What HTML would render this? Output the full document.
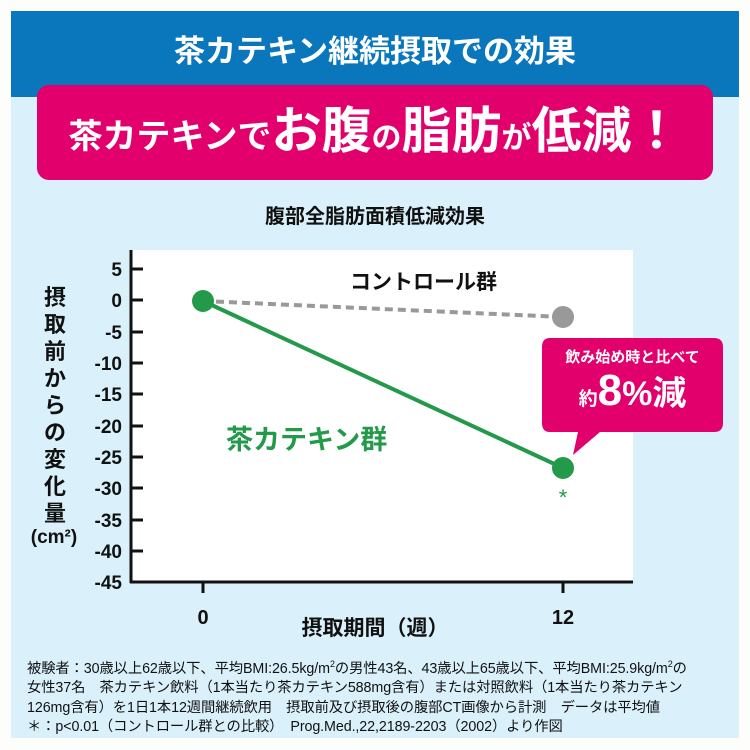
<!DOCTYPE html>
<html><head><meta charset="utf-8"><style>
body{margin:0;width:750px;height:750px;background:#fdfdfb;position:relative;overflow:hidden;font-family:"Liberation Sans","Noto Sans CJK JP",sans-serif;}
.abs{position:absolute;}
</style></head><body>
<div class="abs" style="left:11px;top:11px;width:728px;height:727px;background:#daf1fc;"></div>
<div class="abs" style="left:11px;top:11px;width:728px;height:86px;background:#0a77bd;"></div>
<div class="abs" style="left:11px;top:30px;width:728px;text-align:center;color:#fff;font-size:31px;font-weight:bold;line-height:44px;">茶カテキン継続摂取での効果</div>
<div class="abs" style="left:37px;top:85px;width:676px;height:95px;background:#e2006d;border-radius:12px;"></div>
<div class="abs" style="left:37px;top:96px;width:676px;text-align:center;color:#fff;font-weight:bold;line-height:70px;white-space:nowrap;"><span style="font-size:34px">茶カテキンで</span><span style="font-size:50px">お腹</span><span style="font-size:30px">の</span><span style="font-size:50px">脂肪</span><span style="font-size:30px">が</span><span style="font-size:50px">低減！</span></div>
<div class="abs" style="left:0;top:200px;width:750px;text-align:center;font-size:20px;font-weight:bold;color:#111;">腹部全脂肪面積低減効果</div>
<svg class="abs" style="left:0;top:0" width="750" height="750">
<rect x="131" y="250" width="502" height="332" fill="#fff"/>
<line x1="131" y1="250" x2="131" y2="583" stroke="#111" stroke-width="3"/>
<line x1="130" y1="582" x2="633" y2="582" stroke="#111" stroke-width="3"/>
<g stroke="#111" stroke-width="3">
<line x1="131" y1="269" x2="143" y2="269"/><line x1="131" y1="300" x2="143" y2="300"/><line x1="131" y1="332" x2="143" y2="332"/><line x1="131" y1="363" x2="143" y2="363"/><line x1="131" y1="394" x2="143" y2="394"/><line x1="131" y1="426" x2="143" y2="426"/><line x1="131" y1="457" x2="143" y2="457"/><line x1="131" y1="488" x2="143" y2="488"/><line x1="131" y1="520" x2="143" y2="520"/><line x1="131" y1="551" x2="143" y2="551"/>
<line x1="203" y1="582" x2="203" y2="593"/><line x1="563" y1="582" x2="563" y2="593"/>
</g>
<g font-size="19" font-weight="bold" fill="#111" text-anchor="end" font-family="Liberation Sans,sans-serif">
<text x="122" y="276">5</text><text x="122" y="307">0</text><text x="122" y="339">-5</text><text x="122" y="370">-10</text><text x="122" y="401">-15</text><text x="122" y="433">-20</text><text x="122" y="464">-25</text><text x="122" y="495">-30</text><text x="122" y="527">-35</text><text x="122" y="558">-40</text><text x="122" y="589">-45</text>
</g>
<text x="203" y="624" font-size="20" font-weight="bold" text-anchor="middle" fill="#111">0</text>
<text x="563" y="624" font-size="20" font-weight="bold" text-anchor="middle" fill="#111">12</text>
<line x1="203" y1="301" x2="563" y2="317" stroke="#999" stroke-width="4" stroke-dasharray="8,5"/>
<circle cx="563" cy="317" r="11" fill="#999"/>
<line x1="203" y1="301" x2="563" y2="468" stroke="#23994a" stroke-width="4"/>
<circle cx="203" cy="301" r="11" fill="#23994a"/>
<circle cx="563" cy="468" r="11" fill="#23994a"/>
<text x="563" y="505" font-size="22" text-anchor="middle" fill="#23994a">*</text>
<path d="M550,338 H714 Q723,338 723,347 V423 Q723,432 714,432 H600 L573,455 L578,432 H550 Q542,432 542,423 V347 Q542,338 550,338 Z" fill="#e2006d"/>
</svg>
<div class="abs" style="left:542px;top:346px;width:181px;text-align:center;color:#fff;font-size:15px;font-weight:bold;">飲み始め時と比べて</div>
<div class="abs" style="left:542px;top:366px;width:181px;text-align:center;color:#fff;font-weight:bold;line-height:50px;white-space:nowrap;"><span style="font-size:19px">約</span><span style="font-size:44px">8</span><span style="font-size:34px">%減</span></div>
<div class="abs" style="left:350px;top:266px;font-size:21px;font-weight:bold;color:#111;">コントロール群</div>
<div class="abs" style="left:226px;top:418px;font-size:27px;font-weight:bold;color:#23994a;">茶カテキン群</div>
<div class="abs" style="left:40px;top:284px;width:30px;font-size:22px;font-weight:bold;color:#111;line-height:27px;text-align:center;">摂取前からの変化量</div>
<div class="abs" style="left:24px;top:527px;width:60px;text-align:center;font-size:19px;font-weight:bold;color:#111;">(cm²)</div>
<div class="abs" style="left:0;top:612px;width:750px;text-align:center;font-size:21px;font-weight:bold;color:#111;">摂取期間（週）</div>
<div class="abs" style="left:27px;top:655px;width:710px;font-size:14.3px;line-height:19.5px;color:#111;white-space:nowrap;letter-spacing:-0.1px;">被験者：30歳以上62歳以下、平均BMI:26.5kg/m<sup style="font-size:9px">2</sup>の男性43名、43歳以上65歳以下、平均BMI:25.9kg/m<sup style="font-size:9px">2</sup>の<br>女性37名　茶カテキン飲料（1本当たり茶カテキン588mg含有）または対照飲料（1本当たり茶カテキン<br>126mg含有）を1日1本12週間継続飲用　摂取前及び摂取後の腹部CT画像から計測　データは平均値<br>＊：p&lt;0.01（コントロール群との比較）　Prog.Med.,22,2189-2203（2002）より作図</div>
</body></html>
